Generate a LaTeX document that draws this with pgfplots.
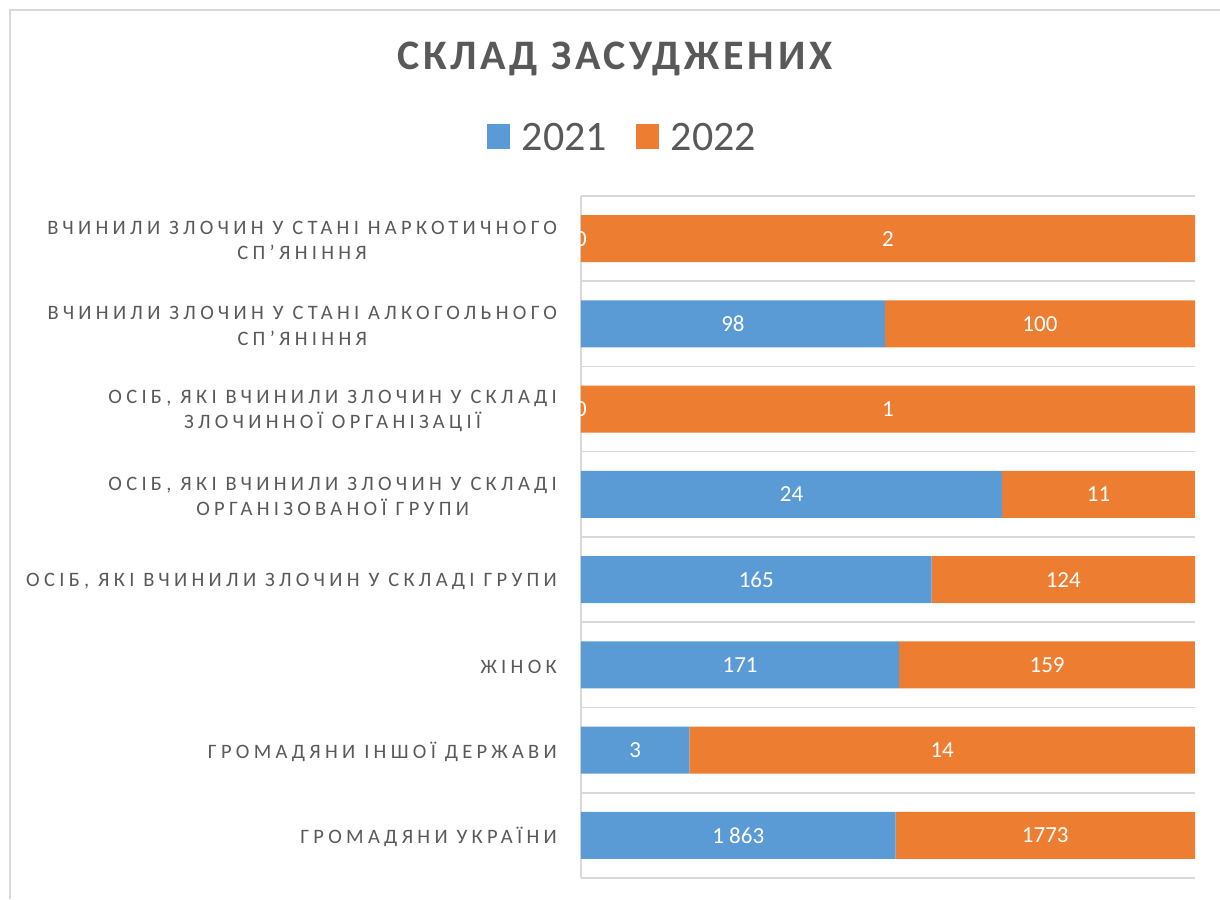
\documentclass[border=0pt]{standalone}
\usepackage{pgfplots}
\pgfplotsset{compat=1.18}
\usepackage{pgfplotstable}
\usepackage{fontspec}
\setmainfont{Carlito}
\newfontfamily\catfont[LetterSpace=21]{Carlito}
\newfontfamily\titlefont[LetterSpace=9]{Carlito}
\definecolor{cblue}{HTML}{5B9BD5}
\definecolor{corange}{HTML}{ED7D31}
\definecolor{ctext}{HTML}{595959}
\definecolor{cgrid}{HTML}{D9D9D9}

\pgfplotstableread[col sep=comma]{
y,a,b,la,lb
0,1863,1773,1 863,1773
1,3,14,3,14
2,171,159,171,159
3,165,124,165,124
4,24,11,24,11
5,0,1,0,1
6,98,100,98,100
7,0,2,0,2
}\data
\pgfplotstablecreatecol[expr={100*\thisrow{a}/(\thisrow{a}+\thisrow{b})}]{pa}\data
\pgfplotstablecreatecol[expr={100*\thisrow{b}/(\thisrow{a}+\thisrow{b})}]{pb}\data
\pgfplotstablecreatecol[expr={50*\thisrow{a}/(\thisrow{a}+\thisrow{b})}]{ca}\data
\pgfplotstablecreatecol[expr={50+50*\thisrow{a}/(\thisrow{a}+\thisrow{b})}]{cb}\data

\begin{document}
\begin{tikzpicture}
\useasboundingbox (-581pt,-21pt) rectangle (639pt,878pt);
\draw[cgrid, line width=1.2pt] (-571pt,-21pt) -- (-571pt,868pt) -- (639pt,868pt);
\begin{axis}[
  at={(0,0)}, anchor=south west,
  scale only axis, width=614pt, height=682pt,
  xbar stacked, bar width=0.55,
  xmin=0, xmax=100, ymin=-0.5, ymax=7.5,
  axis x line=none,
  axis y line*=left,
  axis line style={cgrid, line width=1.5pt},
  xtick=\empty,
  ytick={0,...,7},
  yticklabels={{ГРОМАДЯНИ УКРАЇНИ},{ГРОМАДЯНИ ІНШОЇ ДЕРЖАВИ},{ЖІНОК},{ОСІБ, ЯКІ ВЧИНИЛИ ЗЛОЧИН У СКЛАДІ ГРУПИ},{ОСІБ, ЯКІ ВЧИНИЛИ ЗЛОЧИН У СКЛАДІ\\ОРГАНІЗОВАНОЇ ГРУПИ},{ОСІБ, ЯКІ ВЧИНИЛИ ЗЛОЧИН У СКЛАДІ\\ЗЛОЧИННОЇ ОРГАНІЗАЦІЇ},{ВЧИНИЛИ ЗЛОЧИН У СТАНІ АЛКОГОЛЬНОГО\\СП’ЯНІННЯ},{ВЧИНИЛИ ЗЛОЧИН У СТАНІ НАРКОТИЧНОГО\\СП’ЯНІННЯ}},
  yticklabel style={font=\catfont\fontsize{20.5}{25.5}\selectfont, text=ctext, align=center, inner xsep=0pt, xshift=-24pt, yshift=-2pt},
  major tick length=0pt,
  minor ytick={-0.5,0.5,...,7.5},
  yminorgrids=true,
  minor grid style={cgrid, line width=1.5pt},
  minor tick length=0pt,
  title={СКЛАД ЗАСУДЖЕНИХ},
  title style={at={(0.055,1.192)}, anchor=center, font=\titlefont\bfseries\fontsize{42}{46}\selectfont, text=ctext},
  legend style={at={(0.0676,1.086)}, anchor=center, draw=none, fill=none, legend columns=2,
    font=\fontsize{42}{46}\selectfont, text=ctext,
    /tikz/every odd column/.append style={column sep=10pt},
    /tikz/every even column/.append style={column sep=27pt}},
  legend image code/.code={\fill[#1] (0pt,-12pt) rectangle (23pt,13pt);},
]
\addplot[fill=cblue, draw=none] table[x=pa, y=y]{\data};
\addlegendentry{2021}
\addplot[fill=corange, draw=none] table[x=pb, y=y]{\data};
\addlegendentry{2022}
\end{axis}
\begin{axis}[
  at={(0,0)}, anchor=south west,
  scale only axis, width=614pt, height=682pt,
  xmin=0, xmax=100, ymin=-0.5, ymax=7.5,
  hide axis,
  point meta=explicit symbolic,
  nodes near coords,
  every node near coord/.append style={anchor=center, text=white, font=\fontsize{23}{26}\selectfont},
]
\addplot[only marks, mark=*, mark size=0pt, mark options={draw=none, fill=none}] table[x=ca, y=y, meta=la]{\data};
\addplot[only marks, mark=*, mark size=0pt, mark options={draw=none, fill=none}] table[x=cb, y=y, meta=lb]{\data};
\end{axis}
\end{tikzpicture}
\end{document}
